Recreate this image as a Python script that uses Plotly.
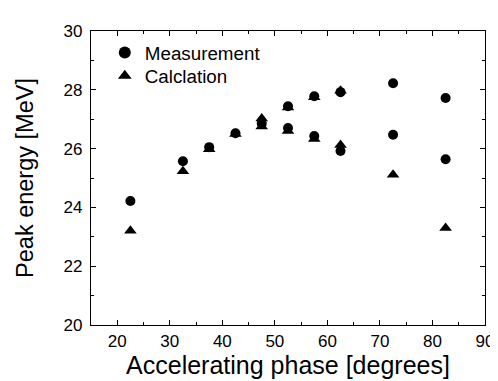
import plotly.graph_objects as go

# Measurement data (accelerating phase [deg], peak energy [MeV])
meas_phase = [22.5, 32.5, 37.5, 42.5, 47.5, 52.5, 52.5, 57.5, 57.5, 62.5, 62.5, 72.5, 72.5, 82.5, 82.5]
meas_energy = [24.22, 25.57, 26.05, 26.52, 26.85, 27.44, 26.70, 27.78, 26.43, 27.92, 25.92, 28.22, 26.47, 27.72, 25.64]

# Calculation data
calc_phase = [22.5, 32.5, 37.5, 42.5, 47.5, 47.5, 52.5, 52.5, 57.5, 57.5, 62.5, 62.5, 72.5, 82.5]
calc_energy = [23.21, 25.23, 25.98, 26.50, 27.02, 26.75, 27.40, 26.60, 27.75, 26.33, 27.97, 26.12, 25.11, 23.30]

x_range = [15, 90]
y_range = [20, 30]

FONT = "Arial, Liberation Sans, Helvetica, sans-serif"

fig = go.Figure()
fig.add_trace(go.Scatter(
    x=meas_phase, y=meas_energy, mode="markers", name="Measurement",
    marker=dict(symbol="circle", size=10, color="black"), legend="legend",
))
fig.add_trace(go.Scatter(
    x=calc_phase, y=calc_energy, mode="markers", name="Calclation",
    marker=dict(symbol="triangle-up", size=11, color="black"), legend="legend2",
))

axis_common = dict(
    showline=True, linecolor="black", linewidth=1.3, mirror="ticks",
    ticks="inside", ticklen=5, tickwidth=1, tickcolor="black",
    showgrid=False, zeroline=False,
    tickfont=dict(family=FONT, size=17, color="black"),
)

fig.update_xaxes(
    range=x_range, dtick=10, tick0=0,
    minor=dict(dtick=5, tick0=0, ticks="inside", ticklen=3, tickcolor="black", showgrid=False),
    title=dict(text="Accelerating phase [degrees]", font=dict(family=FONT, size=25, color="black"), standoff=4),
    **axis_common,
)
fig.update_yaxes(
    range=y_range, dtick=2, tick0=0, ticklabelstandoff=4,
    minor=dict(dtick=1, tick0=0, ticks="inside", ticklen=3, tickcolor="black", showgrid=False),
    title=dict(text="Peak energy [MeV]", font=dict(family=FONT, size=23.5, color="black"), standoff=23),
    **axis_common,
)

legend_common = dict(
    xanchor="left", yanchor="middle",
    bgcolor="rgba(0,0,0,0)", borderwidth=0,
    font=dict(family=FONT, size=18.8, color="black"),
    itemsizing="constant",
)

fig.update_layout(
    width=498, height=381,
    margin=dict(l=83, r=12, t=23, b=64),
    paper_bgcolor="white", plot_bgcolor="white",
    showlegend=True,
    legend=dict(x=0.035, y=0.926, **legend_common),
    legend2=dict(x=0.035, y=0.847, **legend_common),
)

fig.write_html("out.html")
